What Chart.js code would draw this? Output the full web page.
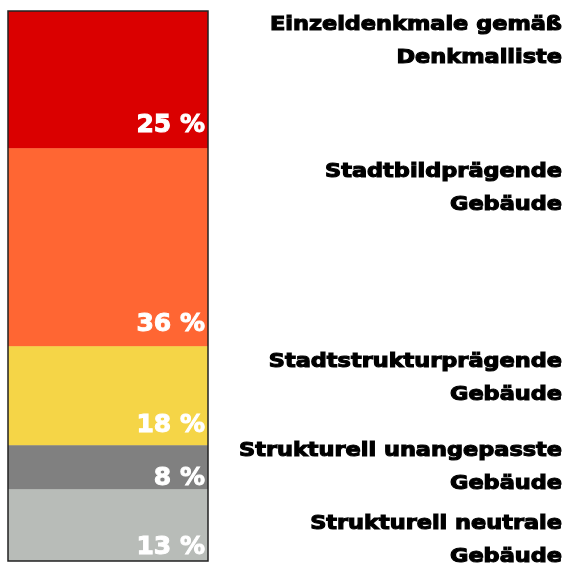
<!DOCTYPE html>
<html>
<head>
<meta charset="utf-8">
<script src="https://cdn.jsdelivr.net/npm/chart.js@4/dist/chart.umd.min.js"></script>
<style>
  html, body { margin: 0; padding: 0; background: #fff; }
  #wrap { width: 565px; height: 565px; }
</style>
</head>
<body>
<div id="wrap"><canvas id="stackChart" width="565" height="565"></canvas></div>
<script>
// data, bottom segment first
const categories = ['Gebäudebestand'];
const seriesNames = [
  ['Strukturell neutrale', 'Gebäude'],
  ['Strukturell unangepasste', 'Gebäude'],
  ['Stadtstrukturprägende', 'Gebäude'],
  ['Stadtbildprägende', 'Gebäude'],
  ['Einzeldenkmale gemäß', 'Denkmalliste']
];
const shares = [13, 8, 18, 36, 25];
const colors = ['#b8bcb8', '#808080', '#f5d547', '#ff6633', '#da0000'];

const labelFont = 'bold 19px "DejaVu Sans", sans-serif';

// draws the % inside each block and the name to the right
const segmentLabels = {
  id: 'segmentLabels',
  afterDatasetsDraw(chart, args, opts) {
    const ctx = chart.ctx;
    const area = chart.chartArea;
    ctx.save();
    // frame round the whole bar
    ctx.strokeStyle = '#222';
    ctx.lineWidth = 1.5;
    ctx.strokeRect(area.left, area.top, area.right - area.left, area.bottom - area.top);

    chart.data.datasets.forEach((ds, i) => {
      const bar = chart.getDatasetMeta(i).data[0];
      const top = bar.y, bottom = bar.base;
      // value (stroked a bit to look heavier)
      ctx.fillStyle = '#fff';
      ctx.strokeStyle = '#fff';
      ctx.lineWidth = 1;
      ctx.font = 'bold 25px "DejaVu Sans", sans-serif';
      ctx.textAlign = 'right';
      ctx.textBaseline = 'alphabetic';
      const vx = bar.x + bar.width / 2 - 3, vy = bottom - opts.valueLift[i];
      ctx.fillText(ds.data[0] + ' %', vx, vy);
      ctx.strokeText(ds.data[0] + ' %', vx, vy);
      // name, stretched sideways to get the wide black look
      ctx.fillStyle = '#000';
      ctx.strokeStyle = '#000';
      ctx.lineWidth = 1.1;
      ctx.font = labelFont;
      ctx.textBaseline = 'middle';
      ds.label.forEach((line, k) => {
        const y = top + opts.nameDrop[i] + k * 33;
        ctx.save();
        ctx.translate(chart.width - 3, y);
        ctx.scale(1.18, 1);
        ctx.fillText(line, 0, 0);
        ctx.strokeText(line, 0, 0);
        ctx.restore();
      });
    });
    ctx.restore();
  }
};

new Chart(document.getElementById('stackChart').getContext('2d'), {
  type: 'bar',
  data: {
    labels: categories,
    datasets: shares.map((v, i) => ({
      label: seriesNames[i],
      data: [v],
      backgroundColor: colors[i],
      borderWidth: 0,
      barPercentage: 1,
      categoryPercentage: 1
    }))
  },
  options: {
    responsive: false,
    animation: false,
    layout: { padding: { left: 8, right: 357, top: 11, bottom: 4 } },
    scales: {
      x: { stacked: true, display: false },
      y: { stacked: true, display: false, min: 0, max: 100 }
    },
    plugins: {
      legend: { display: false },
      tooltip: { enabled: false },
      segmentLabels: {
        valueLift: [7, 5, 14, 16, 17],
        nameDrop: [35, 6, 16, 24, 14]
      }
    }
  },
  plugins: [segmentLabels]
});
</script>
</body>
</html>
